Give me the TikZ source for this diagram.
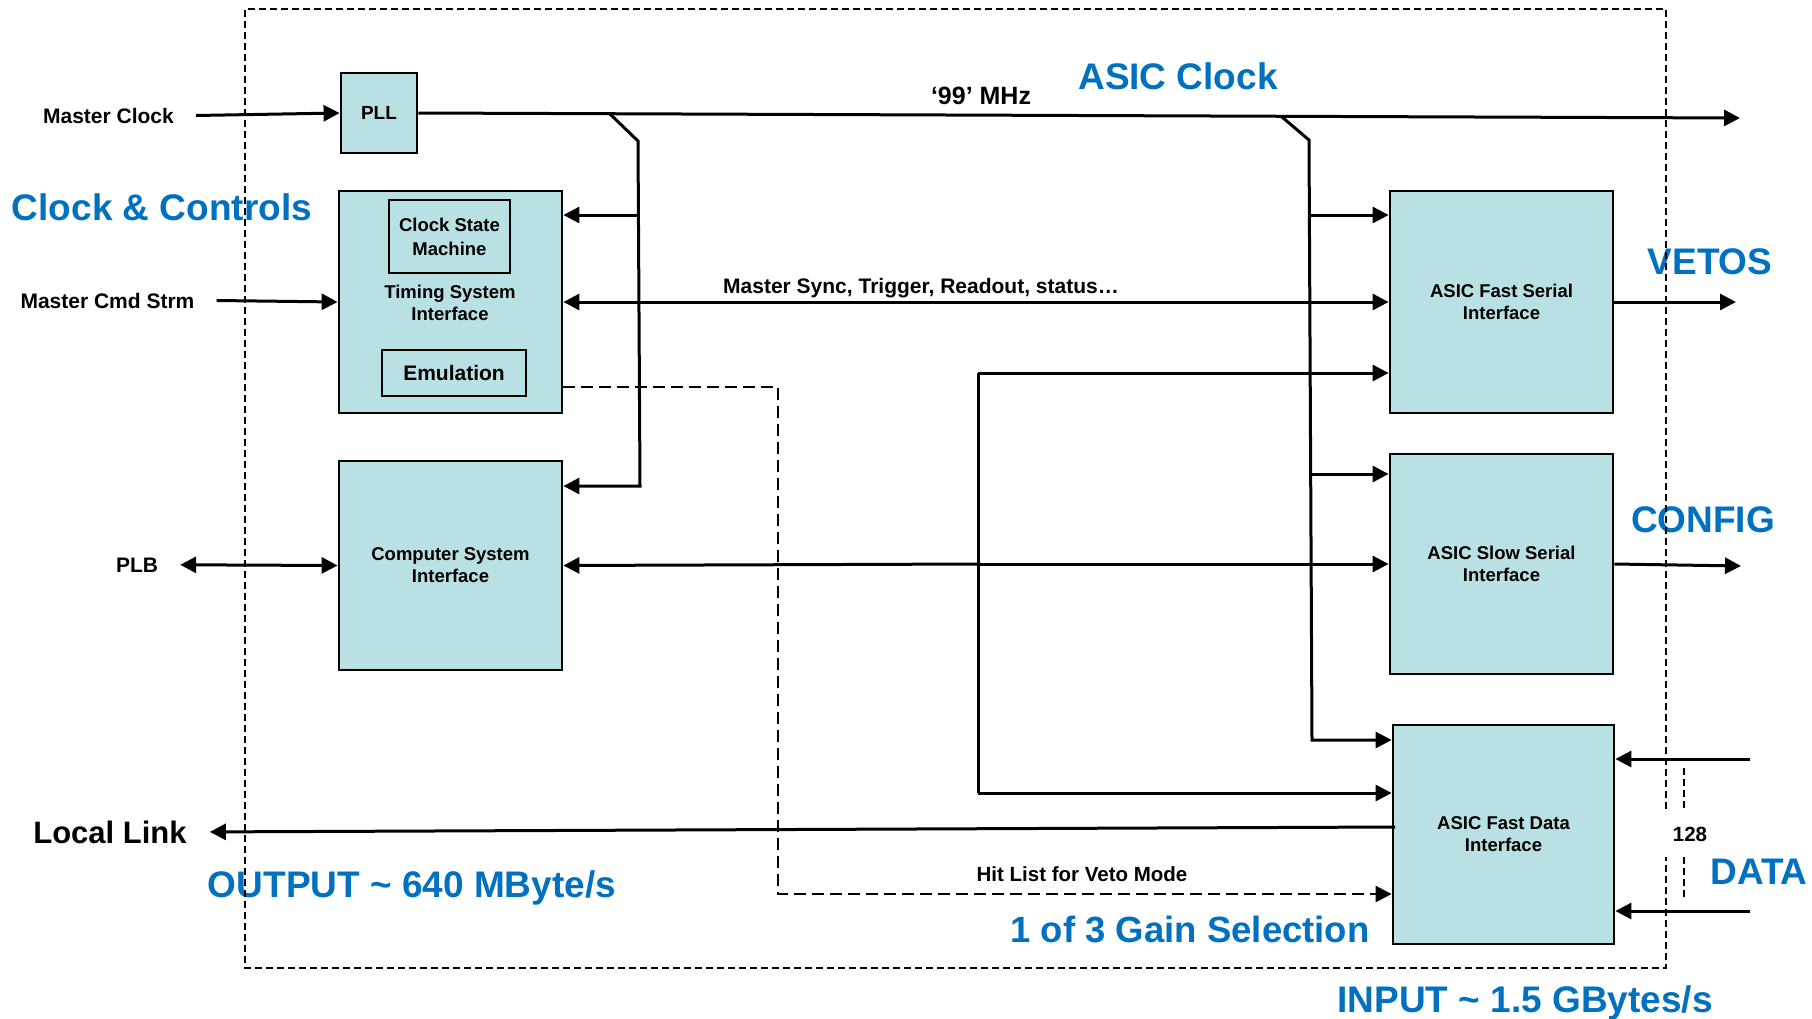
\documentclass[tikz,border=0pt]{standalone}
\usepackage{fontspec}
\setmainfont{Liberation Sans}
\usetikzlibrary{arrows.meta}

\definecolor{boxfill}{RGB}{185,224,227}
\definecolor{hlblue}{RGB}{0,112,192}

% bold text at a given size (1pt = 1 unit of the drawing)
\newcommand\fsz[1]{\fontsize{#1}{#1}\selectfont\bfseries}

\begin{document}
\begin{tikzpicture}[x=1pt,y=-1pt,
  blk/.style={draw, line width=2.8pt, fill=boxfill, inner sep=0pt, align=center,
              font=\fontsize{18.5}{22}\selectfont\bfseries},
  sub/.style={draw, line width=2.5pt, fill=boxfill, inner sep=0pt, align=center},
  wire/.style={line width=3pt},
  tip/.tip={Triangle[length=16pt,width=16pt]},
  arr/.style={wire, -tip},
  darr/.style={wire, tip-tip},
  frame/.style={line width=2.3pt, dash pattern=on 7pt off 4pt},
  hit/.style={line width=2.8pt, dash pattern=on 12pt off 6pt, -tip},
  lbl/.style={inner sep=0pt, anchor=base, font=\fsz{21}},
  big/.style={inner sep=0pt, anchor=base, text=hlblue, font=\fsz{37}}
]
\useasboundingbox (0,0) rectangle (1812,1018);

% ---------------- functional blocks ----------------
\node[blk, font=\fsz{19}, minimum width=76pt, minimum height=80pt] (pll) at (379,113) {PLL};

\node[blk, minimum width=223pt, minimum height=222pt] (tsi) at (450.5,302) {};
\node[sub, font=\fontsize{18.5}{24}\selectfont\bfseries,
      minimum width=121pt, minimum height=73pt] (csm) at (449.5,236.5) {Clock State\\Machine};
\node[inner sep=0pt, align=center, font=\fontsize{18.5}{22}\selectfont\bfseries]
      (tsitxt) at (450,303) {Timing System\\Interface};
\node[sub, font=\fsz{21}, minimum width=144pt, minimum height=46pt] (emu) at (454,373) {Emulation};

\node[blk, minimum width=223pt, minimum height=209pt] (csi) at (450.5,565.5) {Computer System\\Interface};

\node[blk, minimum width=223pt, minimum height=222pt] (fsi) at (1501.5,302) {ASIC Fast Serial\\Interface};
\node[blk, minimum width=223pt, minimum height=220pt] (ssi) at (1501.5,564) {ASIC Slow Serial\\Interface};
\node[blk, minimum width=221pt, minimum height=219pt] (fdi) at (1503.5,834.5) {ASIC Fast Data\\Interface};

% ---------------- external signal labels ----------------
\node[lbl] (mclk) at (108.5,123) {Master Clock};
\node[lbl] (mcmd) at (107.5,308) {Master Cmd Strm};
\node[lbl] (plb)  at (137,572) {PLB};
\node[lbl, font=\fsz{31}] (ll) at (110,843) {Local Link};
\node[lbl, font=\fsz{25}] (mhz) at (981,104) {‘99’ MHz};
\node[lbl] (sync) at (921,293) {Master Sync, Trigger, Readout, status…};
\node[lbl, font=\fsz{20.5}] (hitl) at (1082,881) {Hit List for Veto Mode};
\node[lbl, font=\fsz{20.5}] (n128) at (1690,841) {128};

% ---------------- clock distribution ----------------
\coordinate (clkout) at (1740,118);
\draw[arr] ([xshift=22pt]mclk.east) -- (pll.west);
\draw[arr] (pll.east) -- (clkout);

\coordinate (b1) at (610,114);
\coordinate (j1a) at (639,215);
\coordinate (j1b) at (640,486);
\draw[arr] (b1) -- (638,141) -- (j1b) -- (j1b -| csi.east);
\draw[arr] (j1a) -- (j1a -| tsi.east);

\coordinate (b2) at (1282,117);
\coordinate (j2a) at (1310,215);
\coordinate (j2b) at (1311,474);
\coordinate (j2c) at (1312,740);
\draw[arr] (b2) -- (1309,140) -- (j2c) -- (j2c -| fdi.west);
\draw[arr] (j2a) -- (j2a -| fsi.west);
\draw[arr] (j2b) -- (j2b -| ssi.west);

% ---------------- control and data paths ----------------
\draw[arr] ([xshift=22pt]mcmd.east) -- (tsi.west);
\draw[darr] (tsi.east) -- (fsi.west);
\draw[darr] ([xshift=22pt]plb.east) -- (csi.west);

\coordinate (bt) at (978,373);
\coordinate (bm) at (978,564);
\coordinate (bb) at (978,793);
\draw[wire] (bt) -- (bb);
\draw[arr] (bt) -- (bt -| fsi.west);
\draw[arr] (bm) -- (bm -| ssi.west);
\draw[arr] (bm) -- (csi.east);
\draw[arr] (bb) -- (bb -| fdi.west);

\coordinate (h1) at (778,387);
\coordinate (h2) at (778,894);
\draw[hit] (tsi.east |- h1) -- (h1) -- (h2) -- (h2 -| fdi.west);

\coordinate (llsrc) at (1395,827);
\draw[arr] (llsrc) -- ([xshift=23pt]ll.east);

\coordinate (vet) at (1736,302);
\coordinate (cfg) at (1741,566);
\draw[arr] (fsi.east) -- (vet);
\draw[arr] (ssi.east) -- (cfg);

\coordinate (d1) at (1750,759);
\coordinate (d2) at (1750,911);
\draw[arr] (d1) -- (d1 -| fdi.east);
\draw[arr] (d2) -- (d2 -| fdi.east);

% ---------------- headline annotations ----------------
\node[big] (tclk)  at (1178,89)  {ASIC Clock};
\node[big] (tcc)   at (162,220)  {Clock \& Controls};
\node[big] (tvet)  at (1710,274) {VETOS};
\node[big] (tcfg)  at (1703,532) {CONFIG};
\node[big] (tdat)  at (1759,884) {DATA};
\node[big] (tout)  at (412,897)  {OUTPUT \textasciitilde{} 640 MByte/s};
\node[big, font=\fsz{36.5}] (tgain) at (1190,942) {1 of 3 Gain Selection};
\node[big] (tin)   at (1525,1012) {INPUT \textasciitilde{} 1.5 GBytes/s};

% ---------------- FPGA boundary and 128-lane bus marks ----------------
\draw[frame] (1666,809) -- (1666,9) -- (245,9) -- (245,968) -- (1666,968) -- (1666,857);
\draw[frame] (1684,768) -- (1684,808);
\draw[frame] (1684,857) -- (1684,900);
\end{tikzpicture}
\end{document}
